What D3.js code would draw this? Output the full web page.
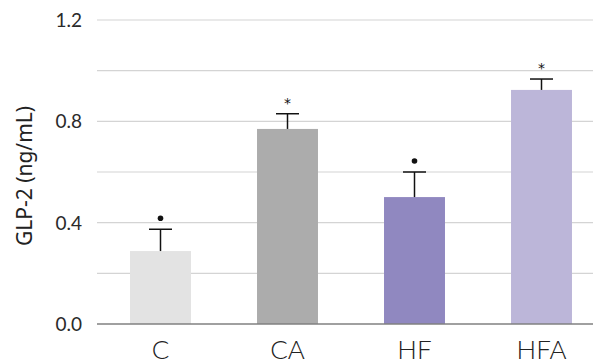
<!DOCTYPE html>
<html>
<head>
<meta charset="utf-8">
<script src="https://cdn.jsdelivr.net/npm/d3@7"></script>
<style>
    body { margin: 0; background: #fff; }
    #chart { width: 593px; height: 364px; }
</style>
</head>
<body>
<div id="chart"></div>
<script>
// chart data
let groups = ["C", "CA", "HF", "HFA"];
let means = [0.288, 0.770, 0.501, 0.924];
let errors = [0.086, 0.060, 0.099, 0.043];
let marks = ["dot", "star", "dot", "star"];
let colors = ["#e3e3e3", "#acacac", "#9088c0", "#bcb6d9"];
let yTicks = [0, 0.2, 0.4, 0.6, 0.8, 1.0, 1.2];
let yLabelTicks = [0, 0.4, 0.8, 1.2];

let margin = {top: 20, right: 0, bottom: 40, left: 97};
let width = 593 - margin.left - margin.right;
let height = 364 - margin.top - margin.bottom;

let svg = d3.select("#chart").append("svg")
    .attr("width", 593)
    .attr("height", 364)
    .append("g")
    .attr("transform", `translate(${margin.left}, ${margin.top})`);

// scales
let x = d3.scaleBand()
    .domain(groups)
    .range([0, 508])
    .paddingInner(0.52)
    .paddingOuter(0.26);

let y = d3.scaleLinear()
    .domain([0, 1.2])
    .range([height, 0]);

// gridlines
svg.selectAll(".grid")
    .data(yTicks.filter(d => d > 0))
    .join("line")
    .attr("class", "grid")
    .attr("x1", 0)
    .attr("x2", width)
    .attr("y1", d => y(d))
    .attr("y2", d => y(d))
    .attr("stroke", "#d4d4d4")
    .attr("stroke-width", 1.2);

// y tick labels
svg.selectAll(".ytick")
    .data(yLabelTicks)
    .join("text")
    .attr("class", "ytick")
    .attr("x", -15)
    .attr("y", d => y(d))
    .attr("dy", "0.36em")
    .attr("text-anchor", "end")
    .attr("font-family", "Lato")
    .attr("font-size", 19)
    .attr("fill", "#2a2a2a")
    .text(d => d.toFixed(1));

// y axis title
svg.append("text")
    .attr("transform", `translate(${25 - margin.left}, ${176 - margin.top}) rotate(-90)`)
    .attr("text-anchor", "middle")
    .attr("dy", "0.35em")
    .attr("font-family", "Noto Sans")
    .style("font-size", "21px")
    .attr("fill", "#222")
    .text("GLP-2 (ng/mL)");

// bars
svg.selectAll(".bar")
    .data(groups)
    .join("rect")
    .attr("class", "bar")
    .attr("x", d => x(d))
    .attr("width", x.bandwidth())
    .attr("y", (d, i) => y(means[i]))
    .attr("height", (d, i) => height - y(means[i]))
    .attr("fill", (d, i) => colors[i]);

// baseline
svg.append("line")
    .attr("x1", 0)
    .attr("x2", width)
    .attr("y1", y(0))
    .attr("y2", y(0))
    .attr("stroke", "#808080")
    .attr("stroke-width", 1.5);

// error bars (upper only)
let eb = svg.selectAll(".err")
    .data(groups)
    .join("g")
    .attr("class", "err")
    .attr("transform", d => `translate(${x(d) + x.bandwidth() / 2}, 0)`);

eb.append("line")
    .attr("y1", (d, i) => y(means[i]))
    .attr("y2", (d, i) => y(means[i] + errors[i]))
    .attr("stroke", "#111")
    .attr("stroke-width", 1.5);

eb.append("line")
    .attr("x1", -11.5)
    .attr("x2", 11.5)
    .attr("y1", (d, i) => y(means[i] + errors[i]))
    .attr("y2", (d, i) => y(means[i] + errors[i]))
    .attr("stroke", "#111")
    .attr("stroke-width", 1.5);

// significance marks
eb.filter((d, i) => marks[i] === "dot")
    .append("circle")
    .attr("cy", d => y(means[groups.indexOf(d)] + errors[groups.indexOf(d)]) - 11)
    .attr("r", 2.8)
    .attr("fill", "#111");

eb.filter((d, i) => marks[i] === "star")
    .append("text")
    .attr("y", d => y(means[groups.indexOf(d)] + errors[groups.indexOf(d)]) - 6)
    .attr("text-anchor", "middle")
    .attr("font-family", "DejaVu Sans")
    .attr("font-size", 14)
    .attr("fill", "#111")
    .text("*");

// x labels
svg.selectAll(".xlabel")
    .data(groups)
    .join("text")
    .attr("class", "xlabel")
    .attr("x", d => x(d) + x.bandwidth() / 2)
    .attr("y", height + 35)
    .attr("text-anchor", "middle")
    .attr("font-family", "Lato")
    .attr("font-weight", 300)
    .attr("font-size", 26)
    .attr("fill", "#222")
    .text(d => d);
</script>
</body>
</html>
